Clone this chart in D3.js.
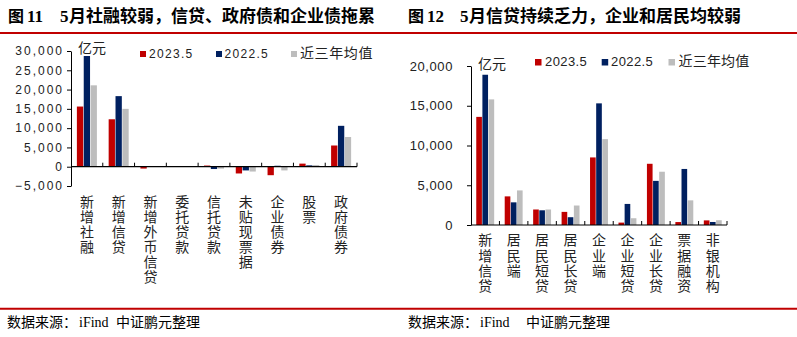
<!DOCTYPE html>
<html>
<head>
<meta charset="utf-8">
<script src="https://cdn.jsdelivr.net/npm/d3@7"></script>
<style>
  body { margin: 0; background: #fff; }
  svg { display: block; }
</style>
</head>
<body>
<svg id="c" width="797" height="337"></svg>
<script>
// ---- data (亿元) ----
const seriesNames = ["2023.5", "2022.5", "近三年均值"];
const seriesColors = ["#C00000", "#002060", "#BDBDBD"];

// Figure 11: social financing components
const tsfCategories = ["新增社融", "新增信贷", "新增外币信贷", "委托贷款", "信托贷款", "未贴现票据", "企业债券", "股票", "政府债券"];
const tsf2023 = [15600, 12300, -480, 20, 300, -1750, -2200, 800, 5500];
const tsf2022 = [28700, 18300, -30, -20, -600, -960, 250, 350, 10600];
const tsfAvg  = [21100, 15000, -60, -60, -500, -1250, -960, 450, 7700];
const tsfTicks = [-5000, 0, 5000, 10000, 15000, 20000, 25000, 30000];

// Figure 12: new RMB loans by sector
const loanCategories = ["新增信贷", "居民端", "居民短贷", "居民长贷", "企业端", "企业短贷", "企业长贷", "票据融资", "非银机构"];
const loan2023 = [13600, 3600, 1950, 1650, 8500, 300, 7700, 370, 580];
const loan2022 = [18900, 2850, 1850, 980, 15300, 2650, 5550, 7050, 380];
const loanAvg  = [15800, 4350, 1950, 2450, 10800, 850, 6700, 3100, 600];
const loanTicks = [0, 5000, 10000, 15000, 20000];

const CJK = "'Noto Sans CJK SC', 'Noto Sans', sans-serif";
const NUM = "'Liberation Sans', Arial, sans-serif";
const SERIF = "'Liberation Serif', 'Times New Roman', serif";

const svg = d3.select("#c");
svg.append("rect").attr("width", 797).attr("height", 337).attr("fill", "#fff");

// ---- header / footer rules ----
svg.append("line").attr("x1", 0).attr("x2", 797).attr("y1", 33).attr("y2", 33)
  .attr("stroke", "#C00000").attr("stroke-width", 2);
svg.append("line").attr("x1", 0).attr("x2", 797).attr("y1", 308.7).attr("y2", 308.7)
  .attr("stroke", "#C00000").attr("stroke-width", 2);

function title(x, num, rest) {
  const t = svg.append("g").attr("fill", "#000").attr("font-weight", "bold");
  t.append("text").attr("x", x).attr("y", 21.5).attr("font-family", CJK).attr("font-size", 16).text("图");
  t.append("text").attr("x", x + 19).attr("y", 21.5).attr("font-family", SERIF).attr("font-size", 17).text(num);
  t.append("text").attr("x", x + 52).attr("y", 21.5).attr("font-family", SERIF).attr("font-size", 17).text("5");
  t.append("text").attr("x", x + 61).attr("y", 21.5).attr("font-family", CJK).attr("font-size", 17).text(rest);
}
title(8, "11", "月社融较弱，信贷、政府债和企业债拖累");
title(408, "12", "月信贷持续乏力，企业和居民均较弱");

function footer(x, gap) {
  const f = svg.append("g").attr("fill", "#000");
  f.append("text").attr("x", x).attr("y", 327).attr("font-family", CJK).attr("font-size", 14).text("数据来源：");
  f.append("text").attr("x", x + 72).attr("y", 327).attr("font-family", SERIF).attr("font-size", 14).text("iFind");
  f.append("text").attr("x", x + 72 + gap).attr("y", 327).attr("font-family", CJK).attr("font-size", 14).text("中证鹏元整理");
}
footer(7, 37);
footer(408, 46);

// ---- grouped bar chart ----
function drawChart(o) {
  const g = svg.append("g");
  const series = [o.a, o.b, o.c];

  const x = d3.scaleBand().domain(o.cats).range([o.x0, o.x1])
    .paddingInner(0.37).paddingOuter(0.185);
  const xs = d3.scaleBand().domain([0, 1, 2]).range([0, x.bandwidth()]).paddingInner(0.08);
  const y = d3.scaleLinear().domain(o.domain).range([o.yBottom, o.yTop]);

  // bars
  const rows = [];
  o.cats.forEach((c, i) => series.forEach((s, k) => rows.push({ c, k, v: s[i] })));
  g.append("g").selectAll("rect").data(rows).join("rect")
    .attr("x", d => x(d.c) + xs(d.k))
    .attr("width", xs.bandwidth())
    .attr("y", d => Math.min(y(d.v), y(0)))
    .attr("height", d => Math.abs(y(d.v) - y(0)))
    .attr("fill", d => seriesColors[d.k]);

  // y axis
  const ya = g.append("g").attr("transform", `translate(${o.x0},0)`)
    .call(d3.axisLeft(y).tickValues(o.ticks).tickSize(4).tickSizeOuter(0)
      .tickPadding(o.tickPad).tickFormat(d3.format(",")));
  ya.select(".domain").attr("stroke", "#000");
  ya.selectAll(".tick line").attr("stroke", "#000");
  ya.selectAll(".tick text").attr("fill", "#222").attr("font-family", NUM)
    .attr("font-size", o.tickSize).attr("letter-spacing", o.tickLS);

  // category axis along zero, ticks between groups pointing up
  const y0 = y(0);
  g.append("line").attr("x1", o.x0).attr("x2", o.x1).attr("y1", y0).attr("y2", y0)
    .attr("stroke", "#000").attr("stroke-width", 1.2);
  const half = (x.step() - x.bandwidth()) / 2;
  const bounds = o.cats.map(c => x(c) - half).slice(1).concat([o.x1]);
  g.append("g").selectAll("line").data(bounds).join("line")
    .attr("x1", d => d).attr("x2", d => d).attr("y1", y0).attr("y2", y0 - 4)
    .attr("stroke", "#000");

  // vertical category labels (top-to-bottom writing)
  g.append("g").attr("fill", "#222").attr("font-family", CJK).attr("font-size", 14)
    .selectAll("text").data(o.cats).join("text")
    .attr("writing-mode", "vertical-rl")
    .attr("letter-spacing", o.labelStep - 14)
    .attr("x", d => x(d) + x.bandwidth() / 2)
    .attr("y", o.labelTop)
    .text(d => d);

  // unit
  g.append("text").attr("x", o.unit[0]).attr("y", o.unit[1]).attr("fill", "#222")
    .attr("font-family", CJK).attr("font-size", 14).text("亿元");

  // legend
  const lg = g.append("g");
  seriesNames.forEach((n, k) => {
    lg.append("rect").attr("x", o.legSq[k]).attr("y", o.legY).attr("width", o.legS).attr("height", o.legS)
      .attr("fill", seriesColors[k]);
    const isNum = /^[0-9.]+$/.test(n);
    lg.append("text").attr("x", o.legTx[k]).attr("y", o.legBase).attr("fill", "#222")
      .attr("font-family", isNum ? NUM : CJK)
      .attr("font-size", isNum ? o.legNumSize : 14)
      .attr("letter-spacing", isNum ? o.legNumLS : o.legCjkLS)
      .text(n);
  });
}

drawChart({
  cats: tsfCategories, a: tsf2023, b: tsf2022, c: tsfAvg, ticks: tsfTicks,
  x0: 71, x1: 357, yTop: 51, yBottom: 186, domain: [-5000, 30000],
  tickSize: 12, tickLS: 2, tickPad: 3,
  labelTop: 195, labelStep: 15,
  unit: [78, 53],
  legSq: [140, 216, 291], legTx: [149, 224.5, 300], legY: 51, legS: 6, legBase: 57.5,
  legNumSize: 12, legNumLS: 1.3, legCjkLS: 0.6
});

drawChart({
  cats: loanCategories, a: loan2023, b: loan2022, c: loanAvg, ticks: loanTicks,
  x0: 471, x1: 727, yTop: 66, yBottom: 225, domain: [0, 20000],
  tickSize: 13, tickLS: 0.6, tickPad: 14,
  labelTop: 233, labelStep: 15.3,
  unit: [478, 69],
  legSq: [535, 601.7, 668.5], legTx: [545, 611, 678.5], legY: 59, legS: 6.5, legBase: 66,
  legNumSize: 13, legNumLS: 0.4, legCjkLS: 0.2
});
</script>
</body>
</html>
